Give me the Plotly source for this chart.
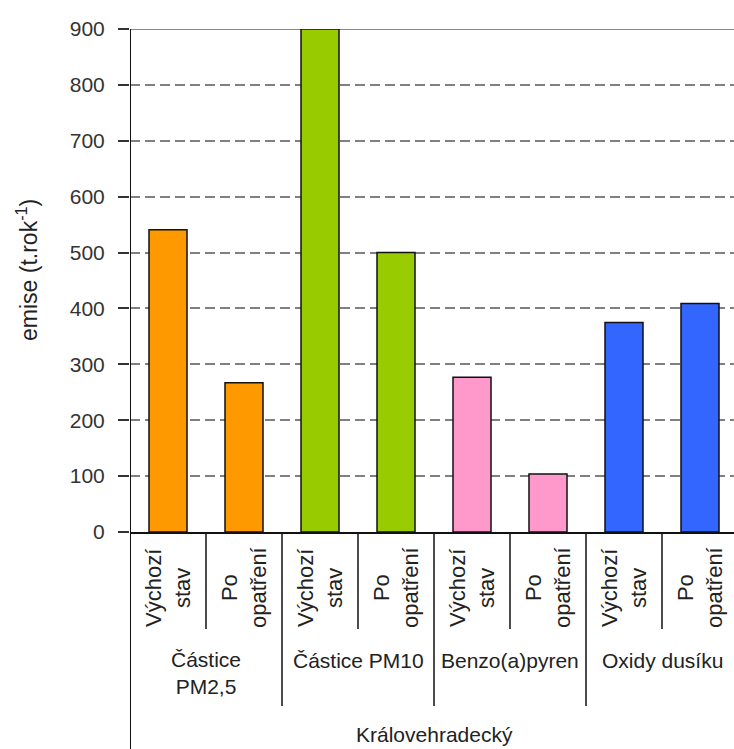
import plotly.graph_objects as go

# Data
sub_labels = ["Výchozí<br>stav", "Po<br>opatření"] * 4
groups = ["Částice<br>PM2,5", "Částice PM10", "Benzo(a)pyren", "Oxidy dusíku"]
region = "Královehradecký"
values = [541, 267, 900, 500, 277, 104, 375, 409]
colors = ["#FF9900", "#FF9900", "#99CC00", "#99CC00",
          "#FF99CC", "#FF99CC", "#3366FF", "#3366FF"]
y_ticks = [0, 100, 200, 300, 400, 500, 600, 700, 800, 900]
y_title = "emise (t.rok<sup>-1</sup>)"

W, H = 734, 749
L, R, T, B = 130, 0, 29, 217
plot_h = H - T - B  # 503
zero_px = H - B     # 532

def py(p):
    return (zero_px - p) / plot_h

FONT = "Liberation Sans, Arial, sans-serif"
TXT = "#222222"

x = list(range(len(values)))

fig = go.Figure()
fig.add_trace(go.Bar(
    x=x, y=values,
    marker=dict(color=colors, line=dict(color="#111111", width=1.5)),
    width=0.5,
    hoverinfo="skip",
))

shapes = []
# top solid line at 900
shapes.append(dict(type="line", xref="paper", yref="y", x0=0, x1=1, y0=900, y1=900,
                   line=dict(color="#888888", width=2), layer="below"))
# level-1 separators
for s in [0.5, 2.5, 4.5, 6.5]:
    shapes.append(dict(type="line", xref="x", yref="paper", x0=s, x1=s,
                       y0=0, y1=py(629), line=dict(color="#111111", width=1.5)))
# level-2 separators
for s in [1.5, 3.5, 5.5]:
    shapes.append(dict(type="line", xref="x", yref="paper", x0=s, x1=s,
                       y0=0, y1=py(706), line=dict(color="#111111", width=1.5)))
# left axis extended
shapes.append(dict(type="line", xref="x", yref="paper", x0=-0.5, x1=-0.5,
                   y0=1, y1=py(749), line=dict(color="#111111", width=2)))

annotations = []
for i, lab in enumerate(sub_labels):
    annotations.append(dict(x=i, y=py(588), xref="x", yref="paper", text=lab,
                            textangle=-90, showarrow=False, align="center",
                            xanchor="center", yanchor="middle",
                            font=dict(family=FONT, size=22, color=TXT)))
for gi, g in enumerate(groups):
    cy = 673 if "<br>" in g else 660
    annotations.append(dict(x=2 * gi + 0.5, y=py(cy), xref="x", yref="paper", text=g,
                            showarrow=False, align="center",
                            xanchor="center", yanchor="middle",
                            font=dict(family=FONT, size=21, color=TXT)))
annotations.append(dict(x=3.5, y=py(734), xref="x", yref="paper", text=region,
                        showarrow=False, xanchor="center", yanchor="middle",
                        font=dict(family=FONT, size=21, color=TXT)))
annotations.append(dict(x=(27 - L) / (W - L - R), y=py(270), xref="paper", yref="paper",
                        text=y_title, textangle=-90, showarrow=False,
                        xanchor="center", yanchor="middle",
                        font=dict(family=FONT, size=23, color=TXT)))

fig.update_layout(
    width=W, height=H,
    margin=dict(l=L, r=R, t=T, b=B, pad=0),
    paper_bgcolor="white", plot_bgcolor="white",
    showlegend=False,
    bargap=0.5,
    shapes=shapes,
    annotations=annotations,
    xaxis=dict(range=[-0.5, -0.5 + (W - L - R) / 76.0], showticklabels=False,
               ticks="", showgrid=False, zeroline=False,
               showline=True, linecolor="#111111", linewidth=2),
    yaxis=dict(range=[0, 900], tickvals=y_ticks, ticks="outside", ticklen=11,
               tickwidth=2, tickcolor="#333333", ticklabelstandoff=9,
               showgrid=True, gridcolor="#808080", gridwidth=1.5, griddash="10px,5px",
               zeroline=False, showline=False,
               tickfont=dict(family=FONT, size=21, color="#333333")),
)

fig.write_html("out.html")
